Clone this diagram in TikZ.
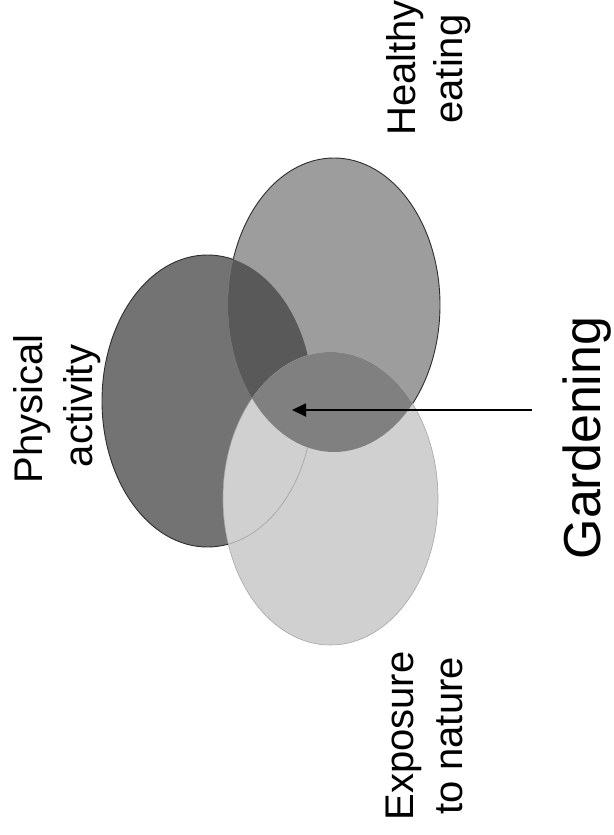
\documentclass[tikz,border=0pt]{standalone}
\usepackage{fontspec}
\setmainfont{Liberation Sans}
\usetikzlibrary{arrows.meta}

% tones of the three sets and of their overlaps
\definecolor{activityfill}{HTML}{737373}
\definecolor{eatingfill}{HTML}{9D9D9D}
\definecolor{activityeating}{HTML}{595959}
\definecolor{naturefill}{HTML}{D0D0D0}
\definecolor{gardenfill}{HTML}{808080}
\definecolor{edgedark}{HTML}{2E2E2E}
\definecolor{edgelight}{HTML}{A6A6A6}

% the three sets
\newcommand\ActivityShape{(207.5,401) ellipse [x radius=105.5pt, y radius=146pt]}
\newcommand\EatingShape{(334,305) ellipse [x radius=106pt, y radius=147pt]}
\newcommand\NatureShape{(330.5,498.5) ellipse [x radius=107.5pt, y radius=146.5pt]}
\newcommand\WholeSheet{(-10,-10) rectangle (630,850)}

\tikzset{
  setlabel/.style={font=\fontsize{40}{48}\selectfont, rotate=90, anchor=base, inner sep=0pt},
  mainlabel/.style={font=\fontsize{52}{60}\selectfont, rotate=90, anchor=base, inner sep=0pt},
  pointer/.style={draw=black, line width=1.8pt, -{Triangle[length=14pt, width=13pt]}},
  setedge/.style={line width=0.9pt}
}

\begin{document}
\begin{tikzpicture}[x=1pt, y=-1pt]
  \fill[white] (0,0) rectangle (613,835);
  \useasboundingbox (0,0) rectangle (613,835);

  % base fills
  \fill[activityfill] \ActivityShape;
  \fill[eatingfill] \EatingShape;
  \begin{scope}
    \clip \ActivityShape;
    \fill[activityeating] \EatingShape;
  \end{scope}

  % outline of "eating", only where it borders the white sheet
  \begin{scope}[even odd rule]
    \clip \WholeSheet \ActivityShape;
    \clip \WholeSheet \NatureShape;
    \draw[setedge, edgedark] \EatingShape;
  \end{scope}

  % outline of "activity", outside the other two sets
  \begin{scope}[even odd rule]
    \clip \WholeSheet \EatingShape;
    \draw[setedge, edgedark] \ActivityShape;
  \end{scope}

  % nature on top, and the common area with eating
  \fill[naturefill] \NatureShape;
  \begin{scope}
    \clip \EatingShape;
    \fill[gardenfill] \NatureShape;
  \end{scope}

  % activity edge seen through the nature set
  \begin{scope}[even odd rule]
    \clip \NatureShape;
    \clip \WholeSheet \EatingShape;
    \draw[line width=0.7pt, edgelight] \ActivityShape;
  \end{scope}

  % faint outline of nature
  \begin{scope}[even odd rule]
    \clip \WholeSheet \EatingShape;
    \draw[line width=0.6pt, edgelight] \NatureShape;
  \end{scope}

  % labels
  \node[setlabel] (physical) at (42,409) {Physical};
  \node[setlabel] (activity) at (92,406) {activity};
  \node[setlabel] (healthy) at (415,68) {Healthy};
  \node[setlabel] (eating) at (462,69) {eating};
  \node[setlabel] (exposure) at (413,736) {Exposure};
  \node[setlabel] (tonature) at (462,736) {to nature};
  \node[mainlabel] (gardening) at (600,438) {Gardening};

  % pointer into the common area
  \coordinate (pointtail) at (532,410);
  \coordinate (pointtip) at (292,410);
  \draw[pointer] (pointtail) -- (pointtip);
\end{tikzpicture}
\end{document}
